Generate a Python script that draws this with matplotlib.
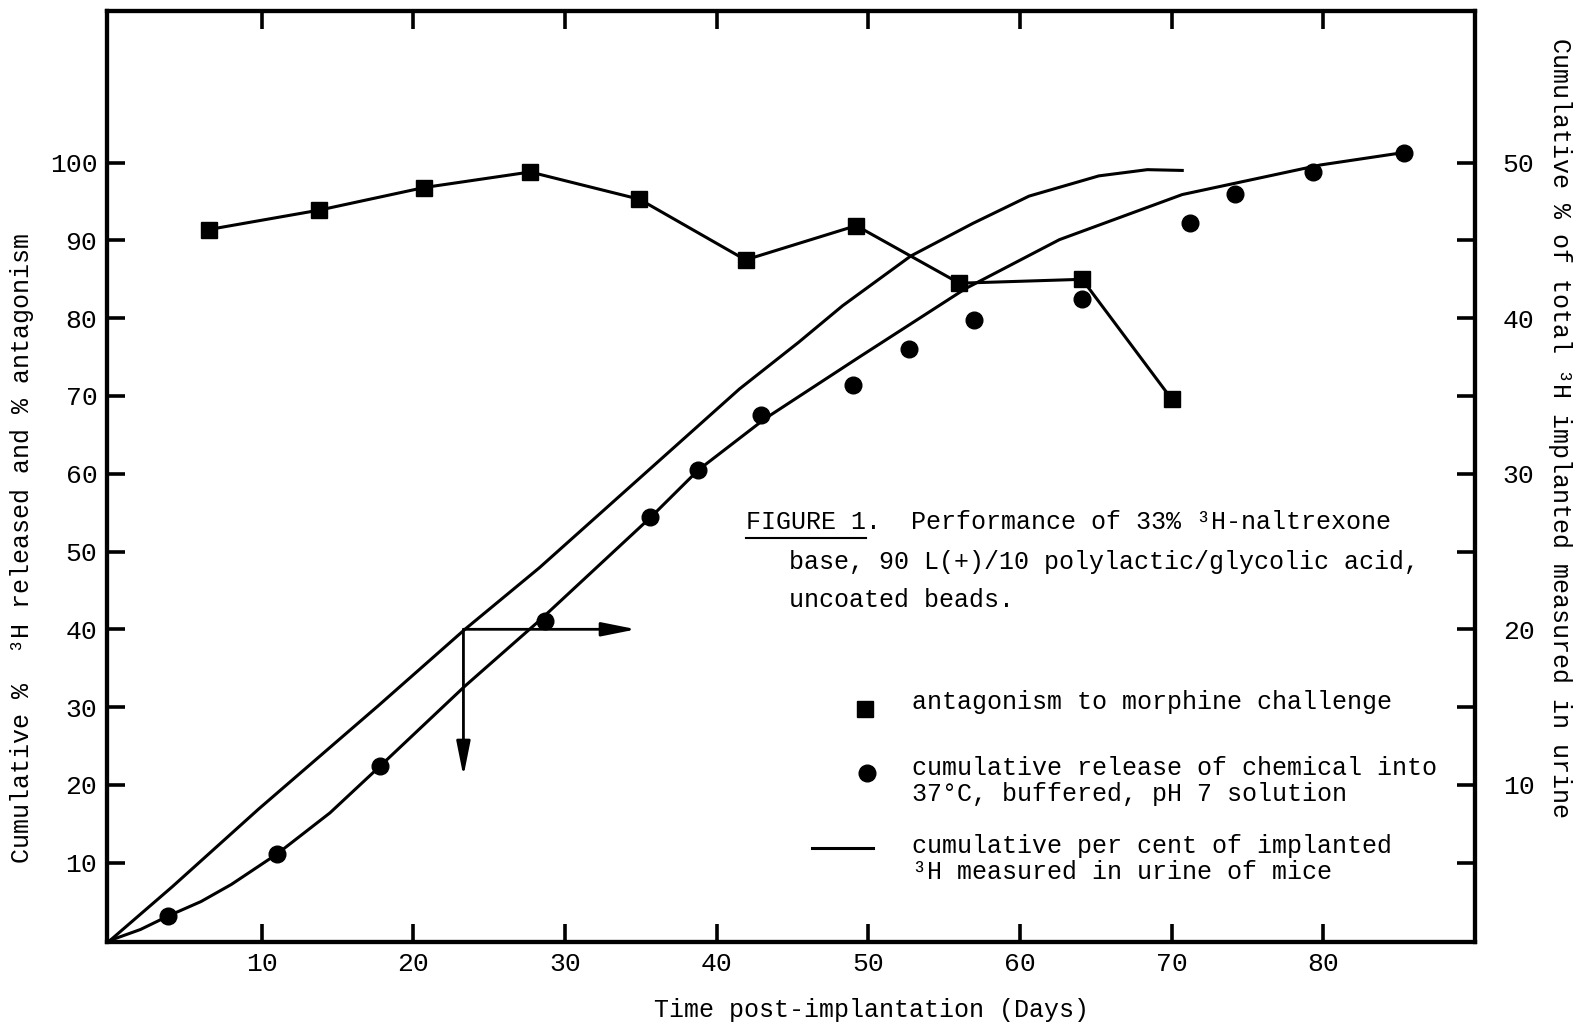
import numpy as np
import matplotlib
matplotlib.use('Agg')
import matplotlib.pyplot as plt
from matplotlib.lines import Line2D

plt.rcParams['font.family'] = ['Liberation Mono', 'DejaVu Sans Mono']
plt.rcParams['font.size'] = 18

# antagonism to morphine challenge (squares, joined)
sq_days = [6.5, 13.8, 20.7, 27.7, 34.9, 41.9, 49.2, 56.0, 64.1, 70.0]
sq_vals = [91.4, 93.9, 96.8, 98.8, 95.3, 87.5, 91.9, 84.5, 85.0, 69.6]

# cumulative release into buffer (circles)
ci_days = [3.8, 11.0, 17.8, 28.7, 35.6, 38.8, 42.9, 49.0, 52.7, 57.0, 64.1, 71.2, 74.2, 79.3, 85.3]
ci_vals = [3.2, 11.1, 22.4, 41.1, 54.5, 60.5, 67.5, 71.4, 76.0, 79.8, 82.5, 92.2, 96.0, 98.8, 101.3]

# urine curve (upper hand-drawn line)
u_days = [0, 4.1, 9.8, 17.7, 23.4, 28.3, 34.9, 41.5, 45.4, 48.3, 52.8, 56.9, 60.6, 65.2, 68.4, 70.7]
u_vals = [0, 6.9, 16.9, 30.2, 40.0, 47.9, 59.4, 70.9, 76.9, 81.6, 88.0, 92.2, 95.7, 98.3, 99.1, 99.0]

# curve through the release points (lower hand-drawn line)
r_days = [0, 2.0, 3.9, 6.0, 8.0, 11.0, 14.5, 17.8, 23.4, 28.3, 35.7, 38.8, 43.2, 49.4, 56.4, 62.6, 70.7, 79.8, 85.3]
r_vals = [0, 1.4, 3.2, 5.0, 7.2, 11.1, 16.4, 22.4, 32.7, 41.1, 54.5, 60.5, 67.1, 75.0, 83.8, 90.1, 95.9, 99.7, 101.3]

x_ticks = [10, 20, 30, 40, 50, 60, 70, 80]
left_ticks = [10, 20, 30, 40, 50, 60, 70, 80, 90, 100]
right_ticks = [5, 10, 15, 20, 25, 30, 35, 40, 45, 50]

# arrow read-off point
arr_day = 23.3
arr_val = 40
arr_right = 34.7
arr_down = 21.1

fig = plt.figure(figsize=(15.79, 10.28), dpi=100)
ax = fig.add_axes([0.0678, 0.0837, 0.8663, 0.9056])

ax.plot(u_days, u_vals, color='black', lw=2.2)
ax.plot(r_days, r_vals, color='black', lw=2.2)
ax.plot(sq_days, sq_vals, color='black', lw=2.2, marker='s', ms=11)
ax.plot(ci_days, ci_vals, color='black', lw=0, marker='o', ms=12)

# arrows
ax.annotate('', xy=(arr_right, arr_val), xytext=(arr_day, arr_val),
            arrowprops=dict(arrowstyle='-|>,head_length=1.5,head_width=0.3',
                            lw=2, color='black', mutation_scale=14, shrinkA=0, shrinkB=0))
ax.annotate('', xy=(arr_day, arr_down), xytext=(arr_day, arr_val),
            arrowprops=dict(arrowstyle='-|>,head_length=1.5,head_width=0.3',
                            lw=2, color='black', mutation_scale=14, shrinkA=0, shrinkB=0))

ax.set_xlim(-0.2, 90)
ax.set_ylim(-0.2, 119.5)
ax.set_xticks(x_ticks)
ax.set_yticks(left_ticks)
ax.tick_params(direction='in', length=13, width=2.6, top=True, labeltop=False,
               pad=7, labelsize=19)
ax.tick_params(axis='y', right=False, pad=7)
for s in ax.spines.values():
    s.set_linewidth(3)

ax2 = ax.twinx()
ax2.set_ylim(-0.1, 119.5 / 2)
ax2.set_yticks(right_ticks)
ax2.set_yticklabels([str(t) if t % 10 == 0 else '' for t in right_ticks])
ax2.tick_params(direction='in', length=13, width=2.6, pad=20, labelsize=19)
for s in ax2.spines.values():
    s.set_linewidth(3)

# axis titles
fig.text(0.552, 0.0175, 'Time post-implantation (Days)', ha='center', va='center')
fig.text(0.014, 0.467, 'Cumulative %  ³H released and % antagonism',
         rotation=90, ha='center', va='center')
fig.text(0.988, 0.584, 'Cumulative % of total ³H implanted measured in urine',
         rotation=-90, ha='center', va='center')

# caption
ax.text(41.9, 53.8, 'FIGURE 1.  Performance of 33% ³H-naltrexone', va='center')
ax.text(44.8, 48.7, 'base, 90 L(+)/10 polylactic/glycolic acid,', va='center')
ax.text(44.8, 43.8, 'uncoated beads.', va='center')

# key
ax.plot([49.8], [29.8], color='black', marker='s', ms=11, lw=0)
ax.text(52.9, 30.6, 'antagonism to morphine challenge', va='center')
ax.plot([49.9], [21.5], color='black', marker='o', ms=12, lw=0)
ax.text(52.9, 22.2, 'cumulative release of chemical into', va='center')
ax.text(52.9, 18.8, '37°C, buffered, pH 7 solution', va='center')
ax.plot([46.3, 50.3], [11.9, 11.9], color='black', lw=2.2)
ax.text(52.9, 12.2, 'cumulative per cent of implanted', va='center')
ax.text(52.9, 8.8, '³H measured in urine of mice', va='center')

# underline "FIGURE 1"
fig.canvas.draw()
r = fig.canvas.get_renderer()
tmp = ax.text(41.9, 53.8, 'FIGURE 1', va='center')
bb = tmp.get_window_extent(r)
tmp.remove()
y_line = bb.y0 - 4
fig.add_artist(Line2D([bb.x0 / fig.bbox.width, bb.x1 / fig.bbox.width],
                      [y_line / fig.bbox.height, y_line / fig.bbox.height],
                      color='black', lw=1.5))

plt.savefig('out.png', dpi=100)
